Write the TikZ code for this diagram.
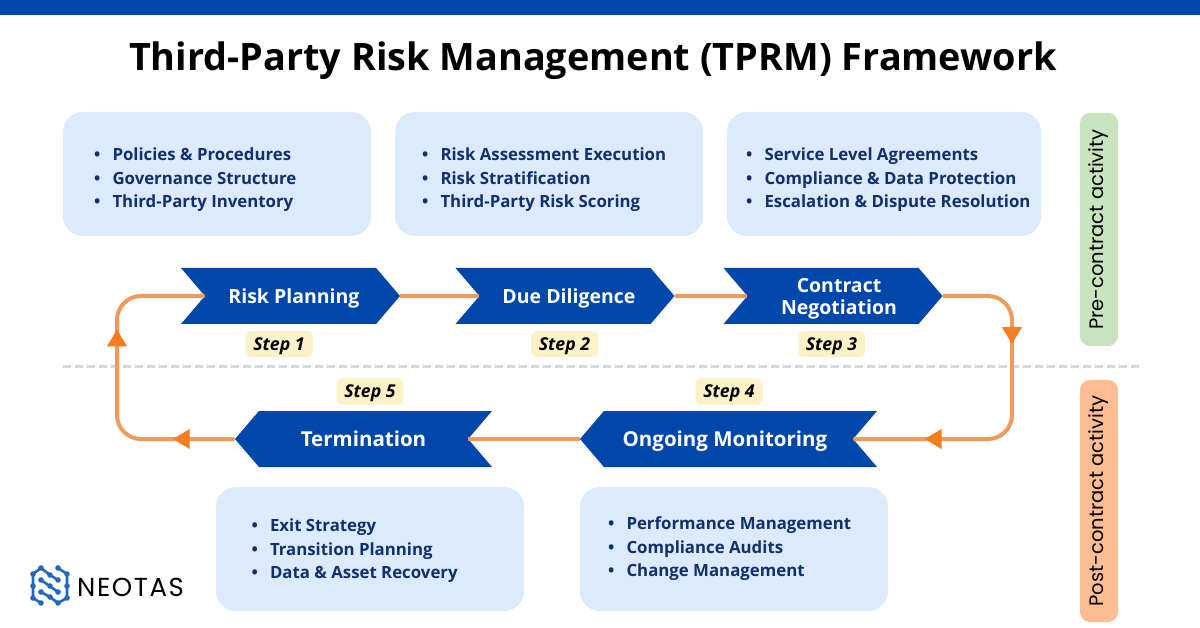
\documentclass[tikz,border=0pt]{standalone}
\usepackage{fontspec}
\setmainfont{Open Sans}
\newfontfamily\sidefont{Poppins}
\usetikzlibrary{shapes.symbols,arrows.meta,decorations.markings}
\definecolor{topblue}{HTML}{0047AB}
\definecolor{boxblue}{HTML}{DBEAFD}
\definecolor{listnavy}{HTML}{12306B}
\definecolor{flowline}{HTML}{F09A5E}
\definecolor{flowtip}{HTML}{F57C20}
\definecolor{stepfill}{HTML}{FDF1C7}
\definecolor{dashgrey}{HTML}{D5D8DE}
\definecolor{sidegreen}{HTML}{C8E4BE}
\definecolor{sideorange}{HTML}{FDBD92}
\definecolor{logoblue}{HTML}{2468B8}

\tikzset{
	infobox/.style = {fill=boxblue, rounded corners=20pt, minimum width=#1, minimum height=124pt, inner sep=0pt},
	bulletlist/.style = {anchor=west, align=left, inner sep=0pt, text=listnavy, font=\fontsize{16.8}{23.5}\selectfont\bfseries},
	chevright/.style = {shape=signal, signal from=west, signal to=east, signal pointer angle=99, fill=topblue, text=white, minimum width=219pt, minimum height=56pt, inner sep=0pt, align=center, text depth=0pt, font=\fontsize{19.5}{22}\selectfont\bfseries},
	chevleft/.style = {chevright, signal from=east, signal to=west, font=\fontsize{20.5}{22}\selectfont\bfseries},
	steptag/.style = {fill=stepfill, rounded corners=5pt, minimum width=67pt, minimum height=26pt, inner sep=0pt, text depth=0pt, font=\fontsize{17.7}{20}\selectfont\bfseries\itshape},
	sidetag/.style = {rotate=90, rounded corners=10pt, minimum height=38pt, inner sep=0pt, font=\sidefont\fontsize{19.5}{22}\selectfont},
	flow/.style = {draw=flowline, line width=4pt, rounded corners=24pt},
	flowmark/.style = {postaction=decorate, decoration={markings, mark=at position #1 with {\arrow[flowtip]{Triangle[length=17pt,width=19pt]}}}},
}
\newcommand{\threeitems}[3]{\textbullet\hspace{12pt}#1\\\textbullet\hspace{12pt}#2\\\textbullet\hspace{12pt}#3}

\begin{document}
\begin{tikzpicture}[x=1pt, y=-1pt]
	\useasboundingbox (0,0) rectangle (1200,628);
	\fill[white] (0,0) rectangle (1200,628);
	\fill[topblue] (0,0) rectangle (1200,15);
	\node (title) at (593,61) {\fontsize{37.8}{44}\selectfont\bfseries Third-Party Risk Management (TPRM) Framework};

	% upper boxes
	\node[infobox=308pt] (boxa) at (217,174) {};
	\node[infobox=308pt] (boxb) at (549,174) {};
	\node[infobox=314pt] (boxc) at (884,174) {};
	\node[bulletlist] (lista) at (94,180) {\threeitems{Policies \& Procedures}{Governance Structure}{Third-Party Inventory}};
	\node[bulletlist] (listb) at (422,180) {\threeitems{Risk Assessment Execution}{Risk Stratification}{Third-Party Risk Scoring}};
	\node[bulletlist] (listc) at (746,180) {\threeitems{Service Level Agreements}{Compliance \& Data Protection}{Escalation \& Dispute Resolution}};

	% lower boxes
	\node[infobox=308pt] (boxd) at (370,549) {};
	\node[infobox=308pt] (boxe) at (734,549) {};
	\node[bulletlist] (listd) at (251.5,551) {\threeitems{Exit Strategy}{Transition Planning}{Data \& Asset Recovery}};
	\node[bulletlist] (liste) at (608,549) {\threeitems{Performance Management}{Compliance Audits}{Change Management}};

	% divider
	\coordinate (dashl) at (63,367);
	\coordinate (dashr) at (1140,367);
	\draw[dashgrey, line width=3pt, dash pattern=on 8pt off 4pt] (dashl) -- (dashr);

	% steps
	\node[chevright] (plan) at (290.5,296) {\hspace*{7pt}Risk Planning};
	\node[chevright] (dili) at (565,296) {\hspace*{8pt}Due Diligence};
	\node[chevright] (nego) at (833,296) {\hspace*{12pt}Contract\\\hspace*{12pt}Negotiation};
	\node[chevleft, minimum width=297pt] (moni) at (728.5,439) {Ongoing Monitoring\hspace*{7pt}};
	\node[chevleft, minimum width=257pt] (term) at (363.5,439) {Termination};

	\node[steptag] (stepa) at (279,344) {Step 1};
	\node[steptag] (stepb) at (564.5,344) {Step 2};
	\node[steptag] (stepc) at (831.5,344) {Step 3};
	\node[steptag] (stepd) at (729,391.5) {Step 4};
	\node[steptag] (stepe) at (370,391.5) {Step 5};

	% flow
	\coordinate (rightmid) at (1012,367);
	\coordinate (leftmid) at (117,367);
	\draw[flow] (plan.east) -- (dili.west);
	\draw[flow] (dili.east) -- (nego.west);
	\draw[flow] (moni.west) -- (term.east);
	\draw[flow, flowmark=107pt] (nego.east) -| (rightmid) |- (moni.east);
	\draw[flow, flowmark=62pt] (term.west) -| (leftmid) |- (plan.west);
	\path[flow, draw=none, flowmark=279pt] (nego.east) -| (rightmid) |- (moni.east);
	\path[flow, draw=none, flowmark=217pt] (term.west) -| (leftmid) |- (plan.west);

	% side tags
	\node[sidetag, fill=sidegreen, minimum width=233pt] (pretag) at (1099,229.5) {Pre-contract activity};
	\node[sidetag, fill=sideorange, minimum width=242pt] (posttag) at (1099,501) {Post-contract activity};

	% logo
	\draw[logoblue, line width=2.6pt, line join=round]
		(41,568) -- (33,574) -- (33,598) -- (41,603)
		(58,568) -- (67,574) -- (67,598) -- (58,603)
		(41,580) -- (58,592) (41,592) -- (50,597) -- (58,603) (41,568) -- (50,575) -- (58,580);
	\foreach \dotx/\doty in {41/568,58/568,33/574,67/574,33/586,67/586,33/598,67/598,41/603,58/603,41/580,50/586,58/592,41/592,50/597,50/575,58/580}
		\fill[logoblue] (\dotx,\doty) circle (2.8pt);
	\node[anchor=west, inner sep=0pt] (brand) at (77,587) {\sidefont\fontsize{26}{28}\selectfont\addfontfeatures{LetterSpace=6}NEOTAS};
\end{tikzpicture}
\end{document}
